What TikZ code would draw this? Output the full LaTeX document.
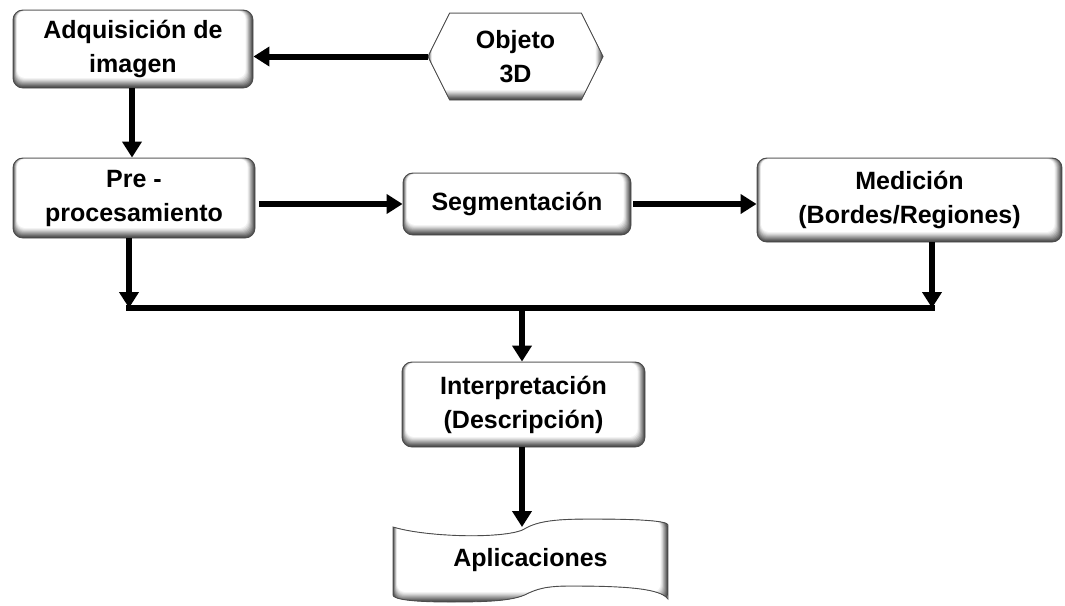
\documentclass[tikz,border=0pt]{standalone}
\usepackage{fontspec}
\setmainfont{Liberation Sans}
\usetikzlibrary{arrows.meta,shapes.symbols}

\tikzset{
  % soft grey rim: darker at the bottom and right, white in the middle
  bevel/.style={path picture={
    \foreach \k/\c in {0/72,1/65,2/58,3/50,4/42,5/34,6/26,7/18,8/11,9/5,10/0}{
      \fill[black!\c,rounded corners=8pt]
        ([xshift=\k*0.4pt,yshift=\k*1.0pt]path picture bounding box.south west)
        rectangle ([xshift=-\k*0.75pt,yshift=-\k*0.1pt]path picture bounding box.north east);
    }}},
  txt/.style={align=center, inner sep=0pt,
    font=\bfseries\fontsize{25}{34}\selectfont},
  box/.style={txt, draw=black!70, line width=0.9pt, rounded corners=10pt,
    fill=white, bevel},
  tapeline/.style={draw=black!70, line width=0.9pt, fill=white, bevel},
  arr/.style={line width=6pt, -{Triangle[length=16pt,width=19pt]}},
  bus/.style={line width=6pt}
}

\begin{document}
\begin{tikzpicture}[x=1pt,y=-1pt]
\useasboundingbox (0,0) rectangle (1065,605);

% process blocks
\node[box, minimum width=240pt, minimum height=78pt] (adq) at (133,49)
  {Adquisición de\\imagen};
\node[box, shape=signal, signal to=west and east, signal pointer angle=127,
  sharp corners, minimum width=175pt, minimum height=87pt] (obj) at (515.5,56.5)
  {Objeto\\3D};
\node[box, minimum width=242pt, minimum height=80pt] (pre) at (134,198)
  {Pre -\\procesamiento};
\node[box, minimum width=228pt, minimum height=62pt] (seg) at (517,204)
  {Segmentación};
\node[box, minimum width=305pt, minimum height=84pt] (med) at (909.5,200)
  {Medición\\(Bordes/Regiones)};
\node[box, minimum width=243pt, minimum height=85pt] (int) at (523.5,404.5)
  {Interpretación\\(Descripción)};

% punched-tape output block, outline drawn around its text node
\begin{scope}[shift={(530.5,559)}]
  \draw[tapeline] (-137.5,-32)
    .. controls (-105,-22) and (-30,-20) .. (-8,-29)
    .. controls (5,-37) and (20,-40) .. (60,-40)
    .. controls (110,-40) and (137.5,-38) .. (137.5,-34)
    -- (137.5,40)
    .. controls (130,30) and (100,27) .. (40,27)
    .. controls (15,27) and (6,30) .. (-6,36)
    .. controls (-20,42) and (-45,43) .. (-80,43)
    .. controls (-120,43) and (-137.5,40) .. (-137.5,36)
    -- cycle;
\end{scope}
\node[txt, minimum width=275pt, minimum height=66pt] (app) at (530.5,560)
  {Aplicaciones};
\coordinate (apptop) at (522,527);

% collecting bus
\coordinate (bl) at (129,308);
\coordinate (br) at (932,308);
\coordinate (bm) at (522,308);

% connectors
\draw[arr] (obj.west) -- (obj.west -| adq.east);
\draw[arr] (adq.south -| 132,0) -- (pre.north -| 132,0);
\draw[arr, shorten <=4pt] (pre.east |- seg.west) -- (seg.west);
\draw[arr, shorten <=2pt] (seg.east) -- (seg.east -| med.west);
\draw[arr] (bl |- pre.south) -- (bl);
\draw[arr] (br |- med.south) -- (br);
\draw[bus] ([xshift=-3pt]bl) -- ([xshift=3pt]br);
\draw[arr] (bm) -- (bm |- int.north);
\draw[arr] (int.south -| bm) -- (apptop);
\end{tikzpicture}
\end{document}
